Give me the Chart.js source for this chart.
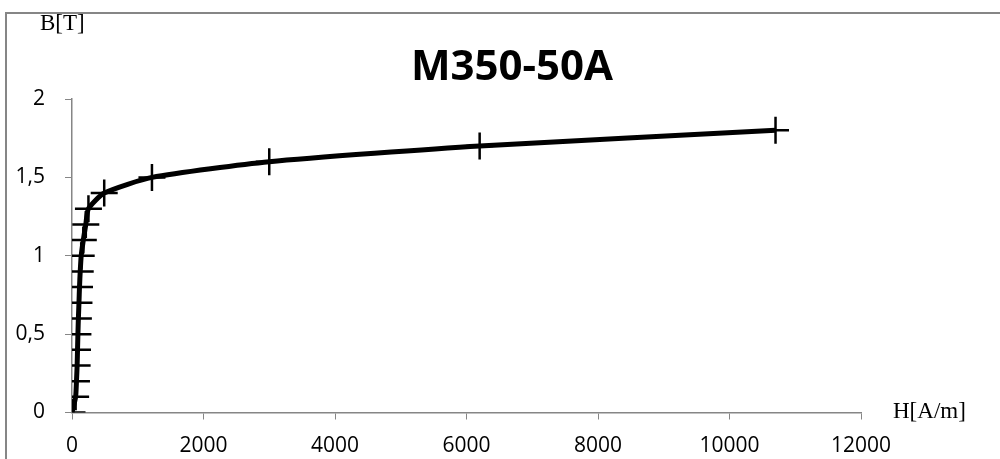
<!DOCTYPE html>
<html>
<head>
<meta charset="utf-8">
<script src="https://cdn.jsdelivr.net/npm/chart.js@4.4.1/dist/chart.umd.min.js"></script>
<style>
  html, body { margin: 0; padding: 0; background: #fff; }
  #wrap { position: relative; width: 1000px; height: 459px; overflow: hidden; }
  #frame { position: absolute; left: 5px; top: 12px; width: 1100px; height: 600px;
           border: 2px solid #868686; box-sizing: border-box; }
  #chart { position: absolute; left: 0; top: 0; }
</style>
</head>
<body>
<div id="wrap">
  <div id="frame"></div>
  <canvas id="chart" width="1000" height="459"></canvas>
</div>
<script>
// B-H curve points
const hValues = [0, 55, 68, 78, 84, 90, 97, 106, 114, 125, 140, 172, 210, 250, 490, 1216, 3000, 6200, 10700];
const bValues = [0, 0.1, 0.2, 0.3, 0.4, 0.5, 0.6, 0.7, 0.8, 0.9, 1.0, 1.1, 1.2, 1.3, 1.4, 1.5, 1.6, 1.7, 1.8];
const chartTitle = 'M350-50A';
const xAxisTitle = 'H[A/m]';
const yAxisTitle = 'B[T]';

const axisGray = '#868686';
const tickFont = { family: 'Open Sans', size: 21 };

// title and axis captions sit outside the normal layout, draw them by hand
const captions = {
    id: 'captions',
    afterDraw(chart) {
        const ctx = chart.ctx;
        ctx.save();
        ctx.fillStyle = '#000';
        ctx.textBaseline = 'middle';
        ctx.font = 'bold 42px "Open Sans"';
        ctx.textAlign = 'center';
        ctx.fillText(chartTitle, 512, 68);
        ctx.font = '23px "Liberation Serif"';
        ctx.textAlign = 'left';
        ctx.fillText(yAxisTitle, 40, 24);
        ctx.fillText(xAxisTitle, 893, 412);
        ctx.restore();
    }
};

new Chart(document.getElementById('chart'), {
    type: 'line',
    data: {
        datasets: [{
            data: hValues.map((h, i) => ({ x: h, y: bValues[i] })),
            borderColor: '#000',
            borderWidth: 5,
            tension: 0.2,
            pointStyle: 'cross',
            pointRadius: 13.5,
            pointHoverRadius: 13.5,
            pointBorderWidth: 2.5,
            pointBorderColor: '#000',
            fill: false
        }]
    },
    options: {
        responsive: false,
        animation: false,
        layout: { padding: { left: 0, top: 99, right: 139, bottom: 0 } },
        plugins: { legend: { display: false }, tooltip: { enabled: false } },
        scales: {
            x: {
                type: 'linear',
                min: 0, max: 12000,
                ticks: {
                    stepSize: 2000, color: '#000', font: tickFont, padding: 14, maxRotation: 0,
                    callback: v => String(v)
                },
                grid: { drawOnChartArea: false, color: axisGray, tickLength: 7 },
                border: { color: axisGray, width: 1.5 },
                afterFit(scale) { scale.height = 46.5; }
            },
            y: {
                min: 0, max: 2,
                ticks: {
                    stepSize: 0.5, color: '#000', font: tickFont, padding: 20,
                    callback: v => String(v).replace('.', ',')
                },
                grid: { drawOnChartArea: false, color: axisGray, tickLength: 7 },
                border: { color: axisGray, width: 1.5 },
                afterFit(scale) { scale.width = 72; }
            }
        }
    },
    plugins: [captions]
});
</script>
</body>
</html>
